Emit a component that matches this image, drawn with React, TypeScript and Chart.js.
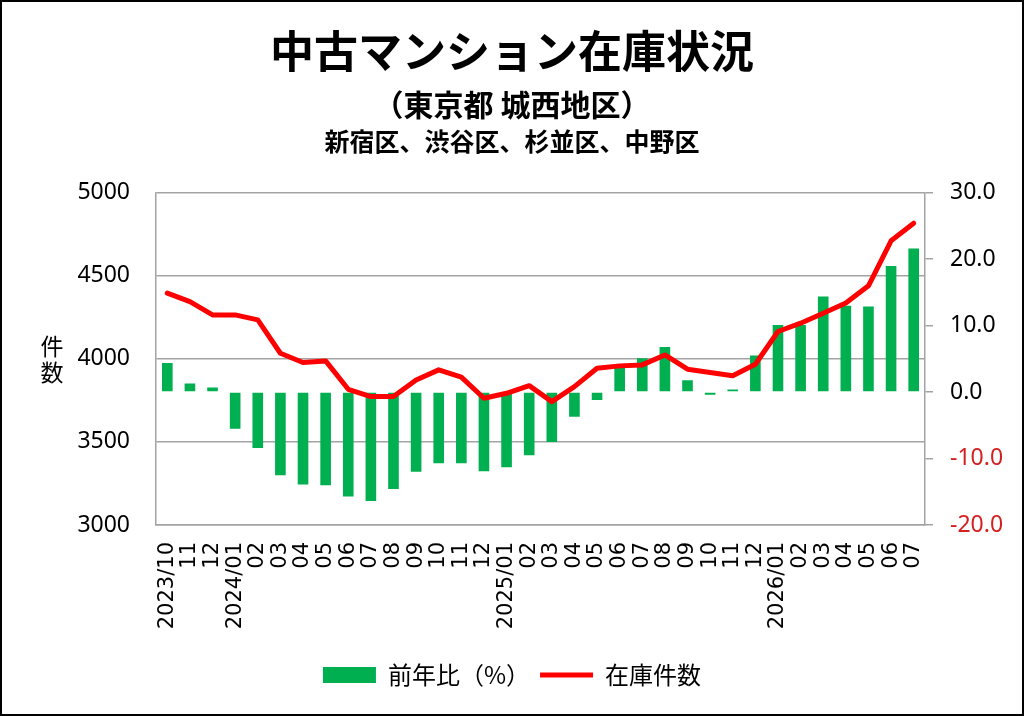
import React, { useRef, useEffect } from "react";
import { Chart, registerables } from "chart.js";

Chart.register(...registerables);

const months = [
  "2023/10", "11", "12",
  "2024/01", "02", "03", "04", "05", "06", "07", "08", "09", "10", "11", "12",
  "2025/01", "02", "03", "04", "05", "06", "07", "08", "09", "10", "11", "12",
  "2026/01", "02", "03", "04", "05", "06", "07",
];

// 前年比 (%) - right axis
const yoyPercent = [
  4.4, 1.3, 0.7,
  -5.5, -8.4, -12.5, -13.9, -14.0, -15.7, -16.4, -14.6, -12.0, -10.7, -10.7, -11.9,
  -11.3, -9.5, -7.5, -3.7, -1.2, 3.8, 5.1, 6.8, 1.8, -0.4, 0.4, 5.5,
  10.1, 10.1, 14.4, 13.0, 12.9, 19.0, 21.6,
];

// 在庫件数 - left axis
const stockCount = [
  4396, 4345, 4265,
  4265, 4235, 4034, 3978, 3988, 3817, 3773, 3773, 3873, 3934, 3890, 3763,
  3793, 3839, 3743, 3833, 3944, 3958, 3964, 4024, 3938, 3918, 3898, 3968,
  4165, 4215, 4275, 4336, 4440, 4711, 4817,
];

const titleText = "中古マンション在庫状況";
const subtitleText = "（東京都 城西地区）";
const wardsText = "新宿区、渋谷区、杉並区、中野区";
const yAxisTitle = ["件", "数"];

const GREEN = "#00b050";
const RED = "#ff0000";
const GRID = "#a3a3a3";
const JP = "'Noto Sans CJK JP', 'Noto Sans', sans-serif";

// stacked axis title 件/数 and the ward line under the subtitle
const extraTextPlugin = {
  id: "extraText",
  afterDraw(chart: Chart) {
    const { ctx, chartArea, width } = chart;
    const mid = (chartArea.top + chartArea.bottom) / 2;
    ctx.save();
    ctx.fillStyle = "#000";
    ctx.textAlign = "center";
    ctx.textBaseline = "middle";
    ctx.font = `23px ${JP}`;
    yAxisTitle.forEach((ch, i) => {
      ctx.fillText(ch, 50, mid - 13 + i * 26);
    });
    ctx.font = `bold 25px ${JP}`;
    ctx.fillText(wardsText, width / 2, 139);
    ctx.restore();
  },
};

const StockChart: React.FC = () => {
  const canvasRef = useRef<HTMLCanvasElement | null>(null);

  useEffect(() => {
    if (!canvasRef.current) return;
    Chart.defaults.font.family = JP;
    Chart.defaults.color = "#000";

    const chart = new Chart(canvasRef.current, {
      type: "bar",
      data: {
        labels: months,
        datasets: [
          {
            type: "line",
            label: "在庫件数",
            data: stockCount,
            yAxisID: "y",
            borderColor: RED,
            backgroundColor: RED,
            borderWidth: 5,
            borderCapStyle: "round",
            borderJoinStyle: "round",
            pointRadius: 0,
            tension: 0,
            order: 0,
          },
          {
            type: "bar",
            label: "前年比（%）",
            data: yoyPercent,
            yAxisID: "y2",
            backgroundColor: GREEN,
            borderWidth: 0,
            barPercentage: 0.47,
            categoryPercentage: 1,
            order: 1,
          },
        ],
      },
      options: {
        responsive: false,
        animation: false,
        layout: { padding: { left: 0, right: 0, top: 0, bottom: 17 } },
        plugins: {
          tooltip: { enabled: false },
          title: {
            display: true,
            text: titleText,
            font: { size: 44, weight: "bold", family: JP },
            padding: { top: 23, bottom: 0 },
          },
          subtitle: {
            display: true,
            text: subtitleText,
            color: "#000",
            font: { size: 30, weight: "bold", family: JP },
            padding: { top: 9, bottom: 70 },
          },
          legend: {
            display: true,
            position: "bottom",
            reverse: true,
            labels: {
              usePointStyle: true,
              pointStyleWidth: 53,
              boxHeight: 16,
              padding: 10,
              font: { size: 24, family: JP },
              generateLabels(c: Chart) {
                const items = Chart.defaults.plugins.legend.labels.generateLabels(c);
                return items.map((it) => {
                  const ds = c.data.datasets[it.datasetIndex as number] as any;
                  return { ...it, pointStyle: ds.type === "line" ? "line" : "rect" };
                });
              },
            },
          },
        },
        scales: {
          x: {
            grid: { display: false },
            border: { display: true, color: GRID, width: 1.5 },
            ticks: {
              autoSkip: false,
              minRotation: 90,
              maxRotation: 90,
              padding: 9,
              font: { size: 21, family: "'DejaVu Sans', sans-serif" },
            },
            afterFit(scale: any) {
              scale.height = 128;
            },
          },
          y: {
            position: "left",
            min: 3000,
            max: 5000,
            grid: { color: GRID, lineWidth: 1.5, drawTicks: false },
            border: { display: true, color: GRID, width: 1.5 },
            ticks: {
              stepSize: 500,
              padding: 26,
              font: { size: 23, family: "'Noto Sans', sans-serif" },
              callback: (v: any) => String(v),
            },
            afterFit(scale: any) {
              scale.width = 154;
            },
          },
          y2: {
            position: "right",
            min: -20,
            max: 30,
            grid: {
              drawOnChartArea: false,
              drawTicks: true,
              tickLength: 8,
              color: GRID,
              lineWidth: 1.5,
            },
            border: { display: true, color: GRID, width: 1.5 },
            ticks: {
              stepSize: 10,
              padding: 17,
              font: { size: 23, family: "'Noto Sans', sans-serif" },
              color: (ctx: any) => (ctx.tick && ctx.tick.value < 0 ? "#d42020" : "#000"),
              callback: (v: any) => Number(v).toFixed(1),
            },
            afterFit(scale: any) {
              scale.width = 97;
            },
          },
        },
      },
      plugins: [extraTextPlugin],
    });

    return () => {
      chart.destroy();
    };
  }, []);

  return <canvas ref={canvasRef} width={1020} height={712}></canvas>;
};

export default function App() {
  return (
    <div
      style={{
        position: "fixed",
        top: 0,
        left: 0,
        width: 1024,
        height: 716,
        boxSizing: "border-box",
        border: "2px solid #000",
        background: "#fff",
      }}
    >
      <StockChart />
    </div>
  );
}
